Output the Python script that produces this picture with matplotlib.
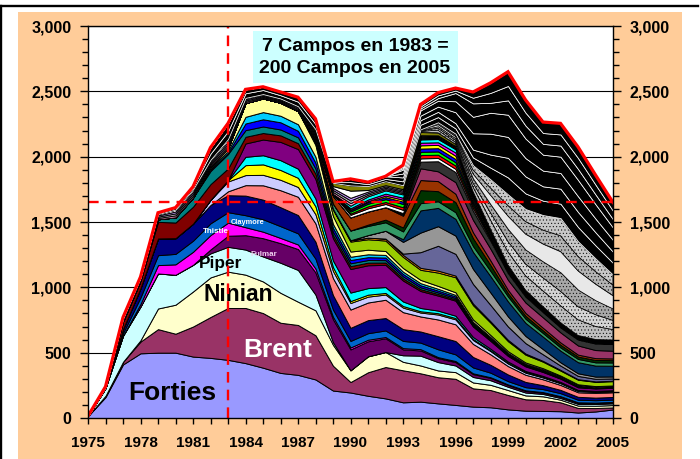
import numpy as np
import matplotlib
matplotlib.use("Agg")
import matplotlib.pyplot as plt
from matplotlib.patches import Rectangle
from matplotlib.lines import Line2D
from matplotlib.ticker import MultipleLocator, FixedLocator, FuncFormatter

plt.rcParams['font.family'] = ['Liberation Sans', 'DejaVu Sans']
plt.rcParams['font.weight'] = 'bold'
plt.rcParams['hatch.linewidth'] = 0.35

years = list(range(1975, 2006))

# ---- field production (kb/d), bottom to top ----
forties = [15,160,410,495,500,500,470,460,445,420,385,345,330,295,210,195,170,150,120,125,112,100,87,82,66,56,54,52,42,50,65]
brent = [0,10,20,90,180,145,230,313,397,422,418,384,382,338,190,80,180,240,245,217,200,200,140,132,110,87,84,68,35,26,16]
ninian = [0,0,0,10,158,222,268,303,278,255,242,229,178,191,160,90,122,115,65,60,52,51,45,40,38,30,28,20,18,18,18]
piper = [0,60,200,258,268,229,204,184,190,192,191,230,243,120,20,0,0,0,50,75,64,51,42,35,25,22,18,13,13,13,13]
fulmar = [0,0,0,0,0,0,0,30,85,110,140,150,160,170,175,160,115,105,45,40,30,26,22,18,13,12,10,10,9,8,8]
thistle = [0,0,0,20,64,80,100,110,100,61,50,40,35,30,20,15,12,10,10,10,8,8,6,5,5,5,4,4,3,3,3]
claymore = [0,0,20,50,76,80,85,90,80,92,95,90,85,75,55,50,50,50,55,50,60,51,45,35,25,24,23,23,20,18,18]
field_navy = [0,0,30,70,128,120,130,140,130,150,150,145,140,130,110,100,100,95,90,85,100,102,80,60,51,40,30,25,22,20,20]
field_salmon = [0,0,0,0,0,0,0,0,30,80,110,130,140,140,130,140,135,140,130,115,128,128,100,80,64,55,45,38,35,36,36]
field_lavender = [0,0,0,0,0,0,0,40,75,77,80,80,75,70,55,50,45,40,35,30,38,38,30,25,20,16,14,13,10,8,8]
field_yellow = [0,0,0,0,0,0,0,0,10,76,80,75,70,60,30,15,15,12,12,10,10,10,8,6,5,5,4,4,3,3,3]
field_cyan = [0,0,0,0,0,0,0,0,0,64,70,75,70,60,50,65,50,45,35,25,20,18,15,12,10,8,8,6,5,5,5]
field_purple = [0,0,0,0,0,0,0,0,0,102,120,140,150,150,170,180,175,170,160,130,115,115,80,60,43,35,30,25,20,18,18]
field_darkred = [0,10,60,60,127,120,130,120,90,51,50,50,45,40,25,22,20,18,16,14,12,10,8,7,6,5,5,4,4,3,3]
field_teal = [0,0,0,0,20,40,70,100,110,51,50,45,45,40,25,22,20,18,16,14,12,10,8,7,6,5,5,4,4,3,3]
field_blue = [0,0,0,0,0,0,0,10,10,51,55,55,50,45,30,25,22,20,18,16,14,12,10,8,6,5,5,4,4,3,3]
field_ltblue = [0,0,0,0,0,0,0,10,15,51,55,50,50,45,30,25,22,20,18,16,14,12,10,8,6,5,5,4,4,3,3]
field_paleyel = [0,0,0,0,0,0,0,15,20,105,105,100,100,90,60,40,35,30,28,25,22,20,18,15,12,10,9,8,7,6,6]

field_yelgrn = [0]*13 + [20,50,76,80,80,85,77,102,115,110,95,77,60,50,38,35,33,33]
field_orange = [0]*13 + [0,5,10,12,15,15,15,15,13,12,10,10,8,6,5,4,3,3]
field_slate = [0]*13 + [0,0,0,0,0,10,120,190,166,150,125,102,80,50,33,25,20,18]
field_gray = [0]*13 + [0,0,0,20,60,90,150,150,140,115,95,77,55,40,25,20,17,15]
field_dkblue = [0]*13 + [0,0,0,0,0,20,170,140,128,130,125,115,100,95,89,85,84,82]
field_seagrn = [0]*13 + [15,40,75,70,65,60,55,51,51,45,40,38,32,28,25,25,25,25]
field_dkgreen = [0]*13 + [0,0,0,10,20,30,100,77,77,60,45,25,22,20,20,18,18,18]
field_brown = [0]*13 + [20,60,100,100,95,90,77,77,64,45,35,25,22,20,18,15,14,13]
field_pinkmar = [0]*13 + [0,0,0,0,0,10,90,75,89,95,90,77,80,80,77,70,62,59]
field_dkgray = [0]*13 + [0,0,0,0,0,10,51,77,77,70,60,51,45,40,38,45,50,51]

b_white = [0]*14 + [15,20,25,25,25,25,25,25,20,15,10,8,6,5,5,4,4]
b_red = [0]*14 + [0,10,15,15,20,25,25,25,20,10,6,5,4,3,3,3,3]
b_green = [0]*14 + [0,15,20,22,25,25,25,25,18,10,6,5,4,3,3,3,3]
b_blue = [0]*14 + [0,10,12,15,18,25,25,25,18,10,6,5,4,3,3,3,3]
b_yellow = [0]*14 + [0,5,8,12,15,25,25,25,18,10,5,4,3,3,3,3,3]
b_magenta = [0]*14 + [0,10,12,15,15,20,20,25,12,6,4,3,3,2,2,2,2]
b_cyan = [0]*14 + [0,20,25,25,25,25,25,25,12,6,4,3,3,2,2,2,2]

s_pink = [0,0,5,5,10,15,15,12,15,10,8,8,8,10,15,20,12,10,10,8,7,6,5,4,4,3,3,3,2,2,2]
s_silver = [0,0,5,5,10,15,15,12,17,10,8,8,10,12,15,20,12,10,10,8,7,6,5,4,4,3,3,3,2,2,2]
s_lilac = [0,0,5,5,10,14,15,12,17,10,8,8,10,12,15,20,12,10,10,8,7,6,5,4,4,3,3,3,2,2,2]
s_white = [0,0,5,4,10,15,18,15,20,10,9,8,10,12,15,55,12,10,10,8,7,6,5,4,4,3,3,3,2,2,2]
s_olive = [0]*13 + [20,25,40,30,30,30,25,20,15,10,8,6,5,4,4,3,3,3]

late1 = [0]*19 + [5,20,15,35,70,100,110,120,130,120,100,80]
late2 = [0]*19 + [5,15,15,30,55,80,90,100,110,100,90,70]
late3 = [0]*19 + [5,15,15,35,65,95,110,125,145,130,110,90]
late4 = [0]*19 + [5,15,15,35,70,100,120,135,160,145,125,100]
late5 = [0]*19 + [0,10,10,30,55,80,95,105,120,110,95,80]
late6 = [0]*19 + [0,5,10,35,65,85,95,115,135,115,100,80]

k1 = [0,0,10,8,10,15,20,47,60,35,31,25,35,40,5,25,15,18,30,35,40,40,60,90,130,120,110,110,110,100,90]
k2 = [0,0,0,0,0,0,0,47,61,30,25,25,34,40,5,25,15,20,30,35,40,40,60,100,150,130,110,115,115,100,85]
k3 = [0]*18 + [30,35,40,84,125,160,160,140,120,120,120,105,90]
k4 = [0]*18 + [30,40,45,84,126,160,170,150,122,125,125,110,95]
k5 = [0]*18 + [12,15,20,63,103,76,110,99,83,85,84,75,64]
k6 = [0]*18 + [11,15,21,19,43,76,110,99,83,85,84,75,64]
k7 = [0]*18 + [11,16,21,19,44,77,109,98,84,85,85,74,65]

ref_year = 1983
ref_level = 1650
y_ticks = [0, 500, 1000, 1500, 2000, 2500, 3000]
x_ticks = [1975, 1978, 1981, 1984, 1987, 1990, 1993, 1996, 1999, 2002, 2005]
note_lines = ["7 Campos en 1983 =", "200 Campos en 2005"]

layers = [
    (forties, '#9999FF', 'c'), (brent, '#993366', 'c'), (ninian, '#FFFFCC', 'c'),
    (piper, '#CCFFFF', 'c'), (fulmar, '#660066', 'c'), (thistle, '#FF00FF', 'c'),
    (claymore, '#0066CC', 'c'), (field_navy, '#000080', 'c'), (field_salmon, '#FF8080', 'c'),
    (field_lavender, '#CCCCFF', 'c'), (field_yellow, '#FFFF00', 'c'), (field_cyan, '#00FFFF', 'c'),
    (field_purple, '#800080', 'c'), (field_darkred, '#800000', 'c'), (field_teal, '#008080', 'c'),
    (field_blue, '#0000FF', 'c'), (field_ltblue, '#00CCFF', 'c'), (field_paleyel, '#FFFF99', 'c'),
    (field_yelgrn, '#99CC00', 'c'), (field_orange, '#FF9900', 'c'), (field_slate, '#666699', 'c'),
    (field_gray, '#969696', 'c'), (field_dkblue, '#003366', 'c'), (field_seagrn, '#339966', 'c'),
    (field_dkgreen, '#003300', 'c'), (field_brown, '#993300', 'c'), (field_pinkmar, '#993366', 'c'),
    (field_dkgray, '#333333', 'c'),
    (b_white, '#FFFFFF', 'c'), (b_red, '#FF0000', 'c'), (b_green, '#00FF00', 'c'),
    (b_blue, '#0000FF', 'c'), (b_yellow, '#FFFF00', 'c'), (b_magenta, '#FF00FF', 'c'),
    (b_cyan, '#00FFFF', 'c'),
    (s_pink, '#FF99CC', 'c'), (s_silver, '#C0C0C0', 'c'), (s_lilac, '#CC99FF', 'c'),
    (s_white, '#FFFFFF', 'c'), (s_olive, '#808000', 'c'),
    (late1, '#BEBEBE', 'h'), (late2, '#D4D4D4', 'h'), (late3, '#A8A8A8', 'h'),
    (late4, '#E8E8E8', 'l'), (late5, '#B4B4B4', 'h'), (late6, '#C8C8C8', 'h'),
    (k1, '#000000', 'k'), (k2, '#000000', 'k'), (k3, '#000000', 'k'),
    (k4, '#000000', 'k'), (k5, '#000000', 'k'), (k6, '#000000', 'k'),
    (k7, '#000000', 'k'),
]

fig = plt.figure(figsize=(7.0, 4.59), dpi=100)
fig.patch.set_facecolor('white')
fig.patches.append(Rectangle((18/700, 0), (682-18)/700, (459-12)/459,
                             transform=fig.transFigure, facecolor='#FFCC99',
                             edgecolor='none', zorder=-10))
fig.add_artist(Line2D([0, 698/700], [1-5.5/459]*2, color='black', lw=1.7,
                      transform=fig.transFigure))
fig.add_artist(Line2D([0.8/700]*2, [0, 1-5.5/459], color='black', lw=1.7,
                      transform=fig.transFigure))

ax = fig.add_axes([88/700, 1-418/459, (613-88)/700, (418-26)/459])
ax.set_facecolor('white')

vals = [np.array(v, dtype=float) for v, _, _ in layers]
cols = [c for _, c, _ in layers]
polys = ax.stackplot(years, *vals, colors=cols, edgecolor='black', linewidth=0.7, zorder=2)
for poly, (_, _, kind) in zip(polys, layers):
    if kind == 'k':
        poly.set_edgecolor('white')
        poly.set_linewidth(0.55)
    elif kind == 'h':
        poly.set_hatch('.....')
        poly.set_linewidth(0.55)
    elif kind == 'l':
        poly.set_linewidth(0.55)

total = np.sum(np.array(vals), axis=0)
ax.plot(years, total, color='#FF0000', lw=2.3, zorder=6, solid_joinstyle='miter')

ax.axvline(ref_year, color='#FF0000', lw=1.7, ls=(0, (4.5, 3)), zorder=7)
ax.axhline(ref_level, color='#FF0000', lw=1.7, ls=(0, (4.5, 3)), zorder=7)

for yv in y_ticks[1:]:
    ax.axhline(yv, color='black', lw=0.8, zorder=0.5)

ax.set_xlim(1975, 2005)
ax.set_ylim(0, 3000)
ax.xaxis.set_major_locator(FixedLocator(x_ticks))
ax.xaxis.set_minor_locator(MultipleLocator(1))
ax.yaxis.set_major_locator(FixedLocator(y_ticks))
ax.yaxis.set_minor_locator(MultipleLocator(100))
ax.yaxis.set_major_formatter(FuncFormatter(lambda v, p: f"{int(v):,}"))
ax.yaxis.set_ticks_position('both')
ax.tick_params(axis='y', which='major', direction='out', length=6, width=1,
               labelsize=11.5, pad=6, labelright=True, labelleft=True)
ax.tick_params(axis='y', which='minor', direction='out', length=4, width=1)
ax.tick_params(axis='x', which='both', direction='out', length=4, width=1,
               labelsize=11, pad=9)
for sp in ax.spines.values():
    sp.set_color('black')
    sp.set_linewidth(1)
    sp.set_zorder(8)

# note box
ax.add_patch(Rectangle((1984.43, 2564), 1996.14-1984.43, 2962-2564,
                       facecolor='#CCFFFF', edgecolor='none', zorder=5))
ax.text(1990.26, 2811, note_lines[0], ha='center', va='baseline', fontsize=14,
        fontweight='bold', color='black', zorder=9)
ax.text(1990.26, 2638, note_lines[1], ha='center', va='baseline', fontsize=14,
        fontweight='bold', color='black', zorder=9)

# field labels
ax.text(1979.8, 138, 'Forties', ha='center', va='baseline', fontsize=19, color='black', zorder=9)
ax.text(1985.86, 469, 'Brent', ha='center', va='baseline', fontsize=19, color='white', zorder=9)
ax.text(1983.57, 895, 'Ninian', ha='center', va='baseline', fontsize=16.5, color='black', zorder=6.5)
ax.text(1982.6, 1150, 'Piper', ha='center', va='baseline', fontsize=12.4, color='black', zorder=6.5)
ax.text(1984.1, 1485, 'Claymore', ha='center', va='baseline', fontsize=5.3, color='white', zorder=9)
ax.text(1982.3, 1418, 'Thistle', ha='center', va='baseline', fontsize=5.8, color='white', zorder=9)
ax.text(1985.06, 1240, 'Fulmar', ha='center', va='baseline', fontsize=5.8, color='#F0D0F0', zorder=9)

fig.savefig('out.png', dpi=100)
